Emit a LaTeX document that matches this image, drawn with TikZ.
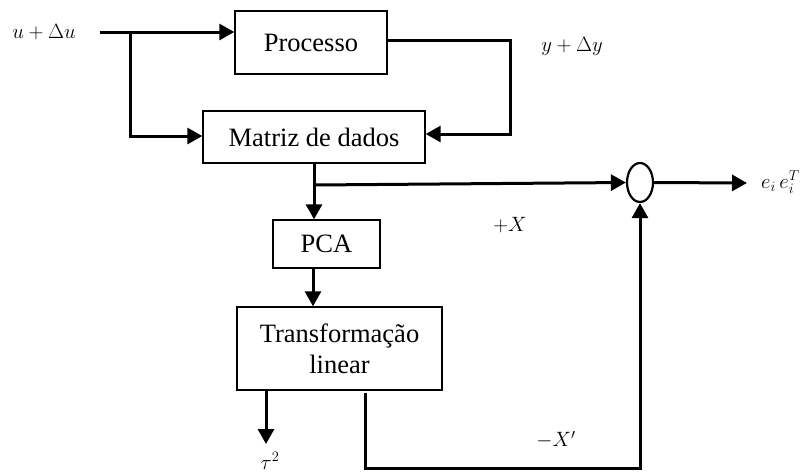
\documentclass[tikz,border=0pt]{standalone}
\usepackage{fontspec}
\setmainfont{Liberation Serif}
\usetikzlibrary{arrows.meta,shapes.geometric}
\begin{document}
\begin{tikzpicture}[x=1pt,y=-1pt,
  blockbox/.style={draw,line width=1.4pt,inner sep=0pt,font=\fontsize{26.5}{31}\selectfont,align=center},
  conn/.style={line width=3pt},
  arr/.style={conn,-{Triangle[length=15pt,width=16pt]}},
  mlabel/.style={inner sep=0pt,font=\fontsize{21}{25}\selectfont}]
\useasboundingbox (0,0) rectangle (806,475);
% blocks
\node[blockbox,minimum width=152pt,minimum height=63pt] (proc) at (311,42.5) {Processo};
\node[blockbox,minimum width=222pt,minimum height=52pt] (mat) at (314,137) {Matriz de dados};
\node[blockbox,minimum width=107pt,minimum height=48pt] (pca) at (326.5,244) {PCA};
\node[blockbox,minimum width=205pt,minimum height=83pt] (tra) at (339.5,348.5) {Transformação\\linear};
\node[draw,ellipse,line width=2.2pt,minimum width=26pt,minimum height=39pt,inner sep=0pt] (sum) at (640,182.5) {};
% labels
\node[mlabel] (lu) at (44,32) {$u+\Delta u$};
\node[mlabel] (ly) at (572,46) {$y+\Delta y$};
\node[mlabel] (lx) at (510,225) {$+X$};
\node[mlabel] (lxp) at (556,440) {$-X'$};
\node[mlabel,anchor=west] (le) at (761,182) {$e_i\,e_i^T$};
\node[mlabel] (ltau) at (270,461) {$\tau^2$};
% coordinates
\coordinate (in) at (100,32);
\coordinate (br) at (130,32);
\coordinate (out) at (747,183);
\coordinate (tauend) at (266,444);
\coordinate (fb) at (365,393);
% connectors
\draw[arr] (in) -- (in -| proc.west);
\draw[arr] (br) |- (mat.west |- 0,136);
\draw[arr] (proc.east |- 0,40) -- (510,40) |- (mat.east |- 0,134);
\draw[arr] (mat.south -| 314,0) -- (pca.north -| 314,0);
\draw[arr] (314,185) -- (sum.west);
\draw[arr] (sum.east) -- (out);
\draw[arr] (pca.south -| 313,0) -- (tra.north -| 313,0);
\draw[arr] (tra.south -| tauend) -- (tauend);
\draw[arr] (fb) |- (640,468) -- (sum.south);
\end{tikzpicture}
\end{document}
